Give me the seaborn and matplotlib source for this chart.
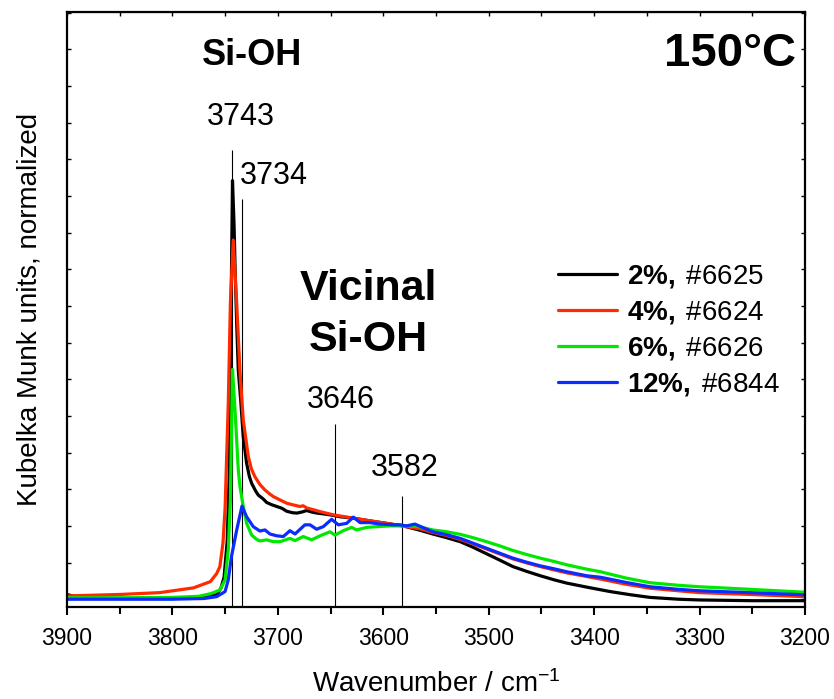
import numpy as np
import pandas as pd
import matplotlib
matplotlib.use("Agg")
import matplotlib.pyplot as plt
import seaborn as sns

# ---- spectra (wavenumber in cm-1, Kubelka-Munk units, normalized) ----
wn_2 = [3900, 3890, 3850, 3800, 3780, 3765, 3758, 3754, 3751, 3748, 3746, 3744.5,
        3743, 3741.5, 3740.5, 3739, 3737.5, 3735, 3732.8, 3729.6, 3727, 3724.8,
        3721, 3718.5, 3714, 3710.6, 3706, 3701, 3696, 3691.6, 3686, 3682, 3677,
        3672.6, 3668, 3663, 3657, 3650, 3641, 3628, 3613, 3597, 3581, 3565, 3553,
        3540, 3527, 3515, 3502, 3489, 3477, 3464, 3451, 3438, 3426, 3407, 3385,
        3365, 3347, 3320, 3300, 3250, 3200]
km_2 = [0.13, 0.05, 0.02, 0.02, 0.04, 0.08, 0.12, 0.30, 0.60, 1.60, 3.50, 7.50,
        11.42, 10.20, 8.98, 7.50, 6.25, 5.34, 4.43, 3.71, 3.35, 3.16,
        2.95, 2.84, 2.74, 2.64, 2.58, 2.53, 2.48, 2.40, 2.36, 2.35, 2.38,
        2.42, 2.38, 2.35, 2.33, 2.30, 2.25, 2.21, 2.14, 2.07, 2.00, 1.88, 1.78,
        1.68, 1.57, 1.42, 1.24, 1.06, 0.89, 0.76, 0.64, 0.53, 0.44, 0.33, 0.21,
        0.12, 0.05, 0.00, -0.02, -0.04, -0.04]

wn_4 = [3900, 3850, 3812, 3780, 3764, 3758, 3755, 3752, 3750, 3747, 3745, 3742.3,
        3739, 3736, 3732.8, 3728, 3725, 3721.7, 3717, 3712.2, 3708, 3704.3, 3698,
        3691.6, 3685, 3679, 3676, 3672.6, 3666, 3660, 3647, 3628, 3613, 3597,
        3578, 3565, 3553, 3540, 3527, 3515, 3502, 3489, 3477, 3464, 3451, 3438,
        3426, 3407, 3394, 3370, 3347, 3320, 3300, 3252, 3200]
km_4 = [0.09, 0.13, 0.18, 0.31, 0.48, 0.70, 0.89, 1.54, 2.50, 5.35, 8.07, 9.80,
        8.07, 6.25, 4.89, 3.89, 3.55, 3.34, 3.13, 2.98, 2.88, 2.80, 2.71,
        2.62, 2.57, 2.53, 2.55, 2.49, 2.44, 2.39, 2.30, 2.21, 2.14, 2.07,
        1.98, 1.92, 1.82, 1.74, 1.63, 1.51, 1.37, 1.23, 1.10, 0.99, 0.89, 0.80,
        0.72, 0.62, 0.55, 0.41, 0.30, 0.23, 0.18, 0.13, 0.07]

wn_6 = [3900, 3850, 3800, 3775, 3764, 3755, 3750, 3747, 3745, 3743, 3740.6,
        3737.5, 3735.9, 3732.8, 3729.6, 3724.8, 3720, 3717, 3710.6, 3704.3,
        3697.9, 3688.5, 3683.7, 3675.9, 3667.9, 3660, 3650.5, 3645.8, 3637.9,
        3630, 3625.3, 3615.8, 3606.3, 3593.6, 3581, 3568, 3553, 3540, 3527, 3515,
        3502, 3489, 3477, 3464, 3451, 3438, 3426, 3407, 3394, 3370, 3347, 3320,
        3300, 3252, 3200]
km_6 = [0.04, 0.04, 0.05, 0.08, 0.15, 0.25, 0.53, 1.35, 2.70, 6.27, 5.16,
        3.53, 3.07, 2.53, 2.07, 1.75, 1.63, 1.59, 1.62, 1.57,
        1.57, 1.66, 1.60, 1.71, 1.62, 1.73, 1.84, 1.75, 1.87,
        1.96, 1.89, 1.96, 1.98, 2.00, 2.00, 1.99, 1.89, 1.84, 1.77, 1.68,
        1.57, 1.45, 1.33, 1.22, 1.12, 1.03, 0.94, 0.82, 0.75, 0.58, 0.45, 0.38,
        0.34, 0.27, 0.19]

wn_12 = [3900, 3850, 3800, 3770, 3758, 3750, 3747, 3744, 3739, 3734, 3729.6,
         3723.3, 3717, 3712.2, 3707.5, 3701, 3694.8, 3688.5, 3683.7, 3674.3,
         3669.5, 3663.2, 3656.9, 3649, 3642.6, 3634.7, 3628.4, 3622, 3612.6,
         3603, 3590.5, 3584, 3578, 3570, 3562, 3553, 3540, 3527, 3515, 3502,
         3489, 3477, 3464, 3451, 3438, 3426, 3407, 3394, 3370, 3347, 3320, 3300,
         3252, 3200]
km_12 = [0.00, 0.00, 0.00, 0.02, 0.07, 0.21, 0.53, 1.16, 1.89, 2.54, 2.25,
         1.98, 1.86, 1.89, 1.78, 1.73, 1.71, 1.87, 1.78, 2.03,
         2.03, 1.91, 1.98, 2.18, 2.03, 2.07, 2.24, 2.09, 2.09,
         2.05, 2.03, 2.03, 2.00, 2.05, 1.95, 1.84, 1.76, 1.66, 1.53, 1.39,
         1.25, 1.12, 1.01, 0.91, 0.83, 0.75, 0.64, 0.60, 0.46, 0.34, 0.27, 0.23,
         0.18, 0.12]

samples = ["2%, #6625", "4%, #6624", "6%, #6626", "12%, #6844"]
legend_labels = [r"$\mathbf{2\%,}\;\mathrm{\#6625}$", r"$\mathbf{4\%,}\;\mathrm{\#6624}$",
                 r"$\mathbf{6\%,}\;\mathrm{\#6626}$", r"$\mathbf{12\%,}\;\mathrm{\#6844}$"]
colors = ["#000000", "#ff2a00", "#00e800", "#0a2cff"]

# marked band positions (cm-1) and the heights their guide lines reach
peak_pos = [3743, 3734, 3646, 3582]
peak_top = [12.26, 10.92, 4.79, 2.82]
peak_label_x = [3735.4, 3704.1, 3640.1, 3579.4]
peak_label_y = [12.93, 11.33, 5.22, 3.36]

# ---- styling ----
sns.set_style("ticks")
plt.rcParams["font.family"] = ["Liberation Sans", "DejaVu Sans"]
plt.rcParams["mathtext.fontset"] = "custom"
plt.rcParams["mathtext.rm"] = "Liberation Sans"
plt.rcParams["mathtext.bf"] = "Liberation Sans:bold"
plt.rcParams["mathtext.it"] = "Liberation Sans:italic"
for key in ["text.color", "axes.labelcolor", "xtick.color", "ytick.color",
            "axes.edgecolor"]:
    plt.rcParams[key] = "black"

frames = []
for name, wn, km in zip(samples, [wn_2, wn_4, wn_6, wn_12], [km_2, km_4, km_6, km_12]):
    frames.append(pd.DataFrame({"wavenumber": wn, "km": km, "sample": name}))
df = pd.concat(frames, ignore_index=True)

fig = plt.figure(figsize=(8.34, 6.99), dpi=100)
ax = fig.add_axes([0.0803, 0.1312, 0.8849, 0.8516])

sns.lineplot(data=df, x="wavenumber", y="km", hue="sample", hue_order=samples,
             palette=dict(zip(samples, colors)), estimator=None, sort=False,
             linewidth=2.3, legend=False, ax=ax)

ax.set_xlim(3900, 3200)
ax.set_ylim(-0.22, 16.02)

# thin guide lines under each marked band
ax.vlines(peak_pos, -0.22, peak_top, colors="black", linewidth=0.8, zorder=1)
for pos, lx, ly in zip(peak_pos, peak_label_x, peak_label_y):
    ax.text(lx, ly, str(pos), ha="center", va="baseline", fontsize=22)

ax.text(3724.5, 14.58, "Si-OH", ha="center", va="baseline", fontsize=26, fontweight="bold")
ax.text(3614.5, 8.16, "Vicinal", ha="center", va="baseline", fontsize=31, fontweight="bold")
ax.text(3614.5, 6.78, "Si-OH", ha="center", va="baseline", fontsize=31, fontweight="bold")
ax.text(3270.7, 14.54, "150°C", ha="center", va="baseline", fontsize=34, fontweight="bold")

# axes, ticks
for sp in ax.spines.values():
    sp.set_linewidth(1.6)
    sp.set_color("black")
ax.set_xticks(np.arange(3900, 3199, -100))
ax.set_xticks(np.arange(3850, 3199, -100), minor=True)
ax.tick_params(axis="x", which="major", direction="out", length=6, width=1.5,
               labelsize=16.5, pad=8)
ax.tick_params(axis="x", which="minor", direction="out", length=5, width=1.5)
ax.set_yticks(np.arange(0, 17, 1))
ax.tick_params(axis="y", which="both", direction="in", length=3, width=1,
               left=True, right=True, labelleft=False)
top = ax.secondary_xaxis("top")
top.set_xticks(np.arange(3900, 3199, -50))
top.tick_params(direction="in", length=3, width=1, labeltop=False)

ax.set_xlabel(r"Wavenumber / cm$^{-1}$", fontsize=20, labelpad=15)
ax.set_ylabel("Kubelka Munk units, normalized", fontsize=20)
ax.yaxis.set_label_coords(-0.033, 0.5)

leg = ax.legend(ax.lines[:4], legend_labels, loc="upper left",
                bbox_to_anchor=(0.666, 0.578), frameon=False, fontsize=20,
                handlelength=2.1, handletextpad=0.38, labelspacing=0.32,
                borderpad=0, borderaxespad=0)
for h in leg.legend_handles:
    h.set_linewidth(2.3)

fig.savefig("out.png", dpi=100)
